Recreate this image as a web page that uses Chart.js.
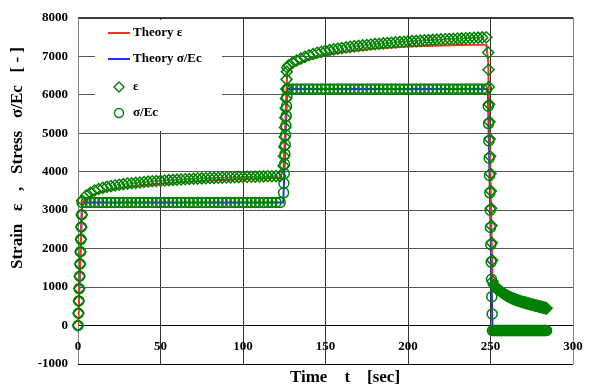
<!DOCTYPE html>
<html>
<head>
<meta charset="utf-8">
<script src="https://cdn.jsdelivr.net/npm/chart.js@4.4.0/dist/chart.umd.min.js"></script>
<style>
  html, body { margin: 0; padding: 0; background: #fff; }
  canvas { display: block; }
</style>
</head>
<body>
<canvas id="creepChart" width="596" height="387"></canvas>
<script>
// temps des mesures (s)
const timeSec = [
  0, 0.25, 0.5, 0.75, 1, 1.25, 1.5, 1.75, 2, 2.25, 2.5,
  5, 7.5, 10, 12.5, 15, 17.5, 20, 22.5, 25, 27.5, 30, 32.5, 35, 37.5, 40, 42.5, 45, 47.5, 50, 52.5,
  55, 57.5, 60, 62.5, 65, 67.5, 70, 72.5, 75, 77.5, 80, 82.5, 85, 87.5, 90, 92.5, 95, 97.5, 100, 102.5,
  105, 107.5, 110, 112.5, 115, 117.5, 120, 122.5,
  124.6, 124.8, 125, 125.2, 125.4, 125.6, 125.8, 126, 126.2, 126.4, 126.6, 126.8,
  127.5, 130, 132.5, 135, 137.5, 140, 142.5, 145, 147.5, 150, 152.5, 155, 157.5, 160, 162.5, 165, 167.5, 170, 172.5, 175,
  177.5, 180, 182.5, 185, 187.5, 190, 192.5, 195, 197.5, 200, 202.5, 205, 207.5, 210, 212.5, 215, 217.5, 220, 222.5, 225,
  227.5, 230, 232.5, 235, 237.5, 240, 242.5, 245, 247.5,
  248.6, 248.8, 249, 249.2, 249.4, 249.6, 249.8, 250, 250.2, 250.4, 250.6, 250.8, 251, 251.2,
  252, 252.5, 253, 253.5, 254, 254.5, 255, 255.5, 256, 256.5,
  257, 257.5, 258, 258.5, 259, 259.5, 260, 260.5, 261, 261.5,
  262, 262.5, 263, 263.5, 264, 264.5, 265, 265.5, 266, 266.5,
  267, 267.5, 268, 268.5, 269, 269.5, 270, 270.5, 271, 271.5,
  272, 272.5, 273, 273.5, 274, 274.5, 275, 275.5, 276, 276.5,
  277, 277.5, 278, 278.5, 279, 279.5, 280, 280.5, 281, 281.5,
  282, 282.5, 283, 283.5, 284
];

// ε mesuré
const strainMeas = [
  0, 320, 640, 960, 1280, 1600, 1920, 2240, 2560, 2880, 3250,
  3380, 3450, 3510, 3550, 3580, 3605, 3625, 3645, 3660, 3675, 3690, 3700, 3710, 3720, 3730, 3740, 3750, 3758, 3765, 3772,
  3780, 3786, 3792, 3798, 3804, 3810, 3815, 3820, 3825, 3830, 3834, 3838, 3842, 3846, 3850, 3853, 3856, 3859, 3862, 3865,
  3868, 3871, 3874, 3877, 3880, 3882, 3884, 3886,
  4150, 4400, 4650, 4900, 5150, 5400, 5650, 5900, 6150, 6400, 6600, 6700,
  6760, 6830, 6890, 6940, 6985, 7025, 7060, 7090, 7115, 7140, 7160, 7180, 7198, 7215, 7230, 7245, 7258, 7270, 7282, 7294,
  7305, 7315, 7325, 7335, 7344, 7353, 7362, 7370, 7378, 7386, 7393, 7400, 7407, 7414, 7420, 7426, 7432, 7438, 7444, 7450,
  7455, 7460, 7465, 7470, 7475, 7480, 7485, 7490, 7495,
  7100, 6650, 6200, 5750, 5300, 4850, 4400, 3950, 3500, 3050, 2600, 2150, 1700, 1150,
  1060, 1035, 1010, 987, 965, 945, 925, 907, 890, 874,
  858, 843, 828, 814, 800, 787, 775, 763, 752, 741,
  731, 721, 712, 703, 694, 685, 677, 669, 661, 653,
  646, 639, 632, 625, 618, 612, 606, 600, 594, 588,
  582, 576, 570, 564, 558, 552, 546, 540, 535, 529,
  524, 518, 513, 507, 502, 496, 491, 485, 480, 474,
  469, 463, 458, 452, 447
];

// σ/Ec mesuré
const stressMeas = [
  0, 320, 640, 960, 1280, 1600, 1920, 2240, 2560, 2880, 3200,
  3200, 3200, 3200, 3200, 3200, 3200, 3200, 3200, 3200, 3200, 3200, 3200, 3200, 3200, 3200, 3200, 3200, 3200, 3200, 3200,
  3200, 3200, 3200, 3200, 3200, 3200, 3200, 3200, 3200, 3200, 3200, 3200, 3200, 3200, 3200, 3200, 3200, 3200, 3200, 3200,
  3200, 3200, 3200, 3200, 3200, 3200, 3200, 3200,
  3450, 3700, 3950, 4200, 4450, 4700, 4950, 5200, 5450, 5700, 5950, 6150,
  6150, 6150, 6150, 6150, 6150, 6150, 6150, 6150, 6150, 6150, 6150, 6150, 6150, 6150, 6150, 6150, 6150, 6150, 6150, 6150,
  6150, 6150, 6150, 6150, 6150, 6150, 6150, 6150, 6150, 6150, 6150, 6150, 6150, 6150, 6150, 6150, 6150, 6150, 6150, 6150,
  6150, 6150, 6150, 6150, 6150, 6150, 6150, 6150, 6150,
  5700, 5250, 4800, 4350, 3900, 3450, 3000, 2550, 2100, 1650, 1200, 750, 300, -130,
  -130, -130, -130, -130, -130, -130, -130, -130, -130, -130,
  -130, -130, -130, -130, -130, -130, -130, -130, -130, -130,
  -130, -130, -130, -130, -130, -130, -130, -130, -130, -130,
  -130, -130, -130, -130, -130, -130, -130, -130, -130, -130,
  -130, -130, -130, -130, -130, -130, -130, -130, -130, -130,
  -130, -130, -130, -130, -130, -130, -130, -130, -130, -130,
  -130, -130, -130, -130, -130
];

// courbes théoriques
const theoryTimeEps = [0, 2.5, 5, 10, 15, 20, 30, 40, 50, 60, 70, 80, 90, 100, 110, 122.5, 124.6, 126.8, 130, 135,
  140, 150, 160, 170, 180, 190, 200, 210, 220, 230, 240, 247.5, 248.6, 251.2, 252, 254, 256, 258, 260, 265,
  270, 275, 280, 284];
const theoryEps = [0, 3200, 3300, 3410, 3480, 3530, 3600, 3647, 3686, 3719, 3747, 3771, 3791, 3808, 3824, 3844, 4100, 6600, 6720, 6830,
  6915, 7030, 7105, 7159, 7199, 7229, 7251, 7268, 7281, 7291, 7299, 7302, 6850, 1100, 1080, 990, 910, 845, 790, 690,
  615, 555, 505, 470];
const theoryTimeSig = [0, 2.5, 124.4, 126.8, 248.4, 251.2, 284];
const theorySig = [0, 3200, 3200, 6150, 6150, -100, -100];

const xTicks = [0, 50, 100, 150, 200, 250, 300];
const yTicks = [-1000, 0, 1000, 2000, 3000, 4000, 5000, 6000, 7000, 8000];

const serif = "'Liberation Serif', 'Times New Roman', serif";
const green = '#008000';
const red = '#ff2a2a';
const blue = '#2a2aff';

function pts(xs, ys) {
  return xs.map((x, i) => ({ x: x, y: ys[i] }));
}

// cadre, légende, titres
const decor = {
  id: 'decor',
  beforeDatasetsDraw(chart) {
    const ctx = chart.ctx;
    const a = chart.chartArea;
    ctx.save();
    ctx.fillStyle = '#fff';
    ctx.fillRect(95, a.top + 2, 127, 111);
    ctx.lineWidth = 1;
    ctx.strokeStyle = '#000';
    ctx.beginPath();
    ctx.moveTo(a.left, a.top + 0.5); ctx.lineTo(a.right, a.top + 0.5);
    ctx.moveTo(a.left, a.bottom + 0.5); ctx.lineTo(a.right, a.bottom + 0.5);
    ctx.stroke();
    ctx.strokeStyle = '#808080';
    ctx.beginPath();
    ctx.moveTo(a.left + 0.5, a.top); ctx.lineTo(a.left + 0.5, a.bottom);
    ctx.moveTo(a.right + 0.5, a.top); ctx.lineTo(a.right + 0.5, a.bottom);
    ctx.stroke();
    ctx.restore();
  },
  afterDraw(chart) {
    const ctx = chart.ctx;
    const xs = chart.scales.x;
    const ys = chart.scales.y;
    ctx.save();
    ctx.fillStyle = '#000';
    ctx.font = 'bold 13px ' + serif;
    ctx.textAlign = 'center';
    ctx.textBaseline = 'middle';
    const yLab = ys.getPixelForValue(0) + 21;
    xTicks.forEach(v => ctx.fillText(String(v), xs.getPixelForValue(v), yLab));

    // légende
    ctx.lineWidth = 2;
    ctx.strokeStyle = red;
    ctx.beginPath(); ctx.moveTo(108, 33); ctx.lineTo(130, 33); ctx.stroke();
    ctx.strokeStyle = blue;
    ctx.beginPath(); ctx.moveTo(108, 59); ctx.lineTo(130, 59); ctx.stroke();
    ctx.lineWidth = 1.4;
    ctx.strokeStyle = green;
    ctx.beginPath();
    ctx.moveTo(119, 82); ctx.lineTo(124, 87); ctx.lineTo(119, 92); ctx.lineTo(114, 87); ctx.closePath();
    ctx.stroke();
    ctx.beginPath(); ctx.arc(119, 113, 4.5, 0, Math.PI * 2); ctx.stroke();
    ctx.textAlign = 'left';
    ctx.font = 'bold 13px ' + serif;
    ctx.fillText('Theory ε', 133, 33);
    ctx.fillText('Theory σ/Ec', 133, 59);
    ctx.fillText('ε', 133, 87);
    ctx.fillText('σ/Ec', 133, 113);

    // titres des axes
    ctx.font = 'bold 17px ' + serif;
    ctx.textAlign = 'center';
    ctx.fillText('Time    t    [sec]', 345, 378);
    ctx.translate(18, 158);
    ctx.rotate(-Math.PI / 2);
    ctx.fillText('Strain   ε   ,   Stress   σ/Ec   [ - ]', 0, 0);
    ctx.restore();
  }
};

new Chart(document.getElementById('creepChart').getContext('2d'), {
  type: 'scatter',
  data: {
    datasets: [
      {
        label: 'ε',
        data: pts(timeSec, strainMeas),
        showLine: false,
        pointStyle: 'rectRot',
        pointRadius: 5.5,
        borderColor: green,
        backgroundColor: 'rgba(0,0,0,0)',
        borderWidth: 1.5,
        clip: false,
        order: 1
      },
      {
        label: 'σ/Ec',
        data: pts(timeSec, stressMeas),
        showLine: false,
        pointStyle: 'circle',
        pointRadius: 5,
        borderColor: green,
        backgroundColor: 'rgba(0,0,0,0)',
        borderWidth: 1.5,
        clip: false,
        order: 1
      },
      {
        label: 'Theory ε',
        data: pts(theoryTimeEps, theoryEps),
        showLine: true,
        pointRadius: 0,
        borderColor: red,
        borderWidth: 2,
        tension: 0,
        order: 2
      },
      {
        label: 'Theory σ/Ec',
        data: pts(theoryTimeSig, theorySig),
        showLine: true,
        pointRadius: 0,
        borderColor: blue,
        borderWidth: 2,
        tension: 0,
        order: 2
      }
    ]
  },
  options: {
    responsive: false,
    animation: false,
    layout: { padding: { left: 0, right: 23, top: 13, bottom: 0 } },
    plugins: {
      legend: { display: false },
      tooltip: { enabled: false }
    },
    scales: {
      x: {
        type: 'linear',
        min: 0,
        max: 300,
        afterFit: s => { s.height = 23; },
        afterBuildTicks: s => { s.ticks = xTicks.map(v => ({ value: v })); },
        ticks: { display: false },
        border: { display: false },
        grid: { color: '#333', lineWidth: 1, drawTicks: false }
      },
      y: {
        type: 'linear',
        min: -1000,
        max: 8000,
        afterFit: s => { s.width = 78; },
        afterBuildTicks: s => { s.ticks = yTicks.map(v => ({ value: v })); },
        ticks: {
          padding: 10,
          color: '#000',
          font: { family: serif, size: 13, weight: 'bold' },
          callback: v => String(v)
        },
        border: { display: false },
        grid: {
          drawTicks: false,
          lineWidth: 1,
          color: c => (c.tick && c.tick.value === 0 ? '#000' : '#555')
        }
      }
    }
  },
  plugins: [decor]
});
</script>
</body>
</html>
